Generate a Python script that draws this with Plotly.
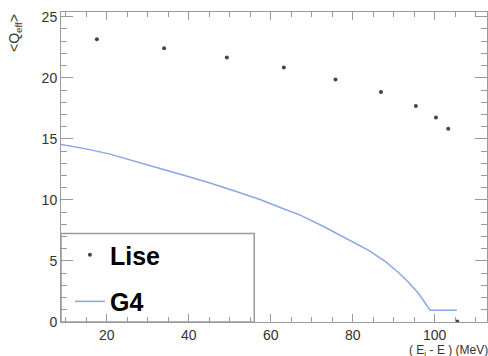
import plotly.graph_objects as go

# Lise points
lise_x = [17.6, 34.0, 49.3, 63.2, 75.8, 86.9, 95.4, 100.3, 103.3, 105.5]
lise_y = [23.15, 22.43, 21.67, 20.85, 19.87, 18.83, 17.70, 16.75, 15.82, 0.05]

# G4 curve
g4_x = [8.85, 15.0, 20.8, 27.0, 33.0, 39.0, 45.2, 51.0, 57.4, 62.0, 67.2, 73.0, 79.4,
        84.0, 88.0, 91.0, 93.5, 96.0, 98.9, 105.4]
g4_y = [14.54, 14.18, 13.75, 13.18, 12.57, 12.00, 11.39, 10.75, 10.03, 9.42, 8.75, 7.80, 6.70,
        5.85, 4.95, 4.10, 3.30, 2.35, 0.96, 0.96]

fig = go.Figure()
fig.add_trace(go.Scatter(x=lise_x, y=lise_y, mode="markers", name="Lise",
                         legendgroup="a",
                         marker=dict(size=4, color="#444444")))
fig.add_trace(go.Scatter(x=g4_x, y=g4_y, mode="lines", name="G4",
                         legendgroup="b",
                         line=dict(color="#8aa6e8", width=1.5)))

axis_common = dict(
    showline=True, linecolor="#9a9a9a", linewidth=1, mirror="allticks",
    ticks="inside", tickcolor="#9a9a9a", showgrid=False, zeroline=False,
    tickfont=dict(family="Liberation Sans, Arial", size=14, color="#333333"),
)

fig.update_xaxes(range=[8.85, 112.75], tickvals=[20, 40, 60, 80, 100], ticklen=8,
                 minor=dict(dtick=5, ticks="inside", ticklen=5, tickcolor="#9a9a9a", showgrid=False),
                 **axis_common)
fig.update_yaxes(range=[0, 25.39], tickvals=[0, 5, 10, 15, 20, 25], ticklen=12,
                 minor=dict(dtick=1, ticks="inside", ticklen=6, tickcolor="#9a9a9a", showgrid=False),
                 **axis_common)

fig.update_layout(
    width=488, height=356,
    margin=dict(l=61, r=1, t=12, b=34),
    plot_bgcolor="white", paper_bgcolor="white",
    showlegend=True,
    legend=dict(x=0.021, y=0.29, xanchor="left", yanchor="top",
                bgcolor="rgba(0,0,0,0)", borderwidth=0,
                tracegroupgap=11,
                font=dict(family="Liberation Sans, Arial", size=25, color="black", weight="bold")),
    shapes=[dict(type="rect", xref="paper", yref="paper", x0=0, x1=0.4537, y0=0, y1=0.2854,
                 line=dict(color="#9a9a9a", width=1.5), fillcolor="rgba(255,255,255,1)", layer="below")],
    annotations=[
        dict(text="&lt;Q<sub>eff</sub>&gt;", xref="paper", yref="paper", x=-0.108, y=1.0,
             xanchor="center", yanchor="top", textangle=-90, showarrow=False,
             font=dict(family="Liberation Sans, Arial", size=14, color="#333333")),
        dict(text="( E<sub>i</sub> - E ) (MeV)", xref="paper", yref="paper", x=1.004, y=-0.063,
             xanchor="right", yanchor="top", showarrow=False, borderpad=0,
             font=dict(family="Liberation Sans, Arial", size=12, color="#333333")),
    ],
)

fig.write_html("out.html")
